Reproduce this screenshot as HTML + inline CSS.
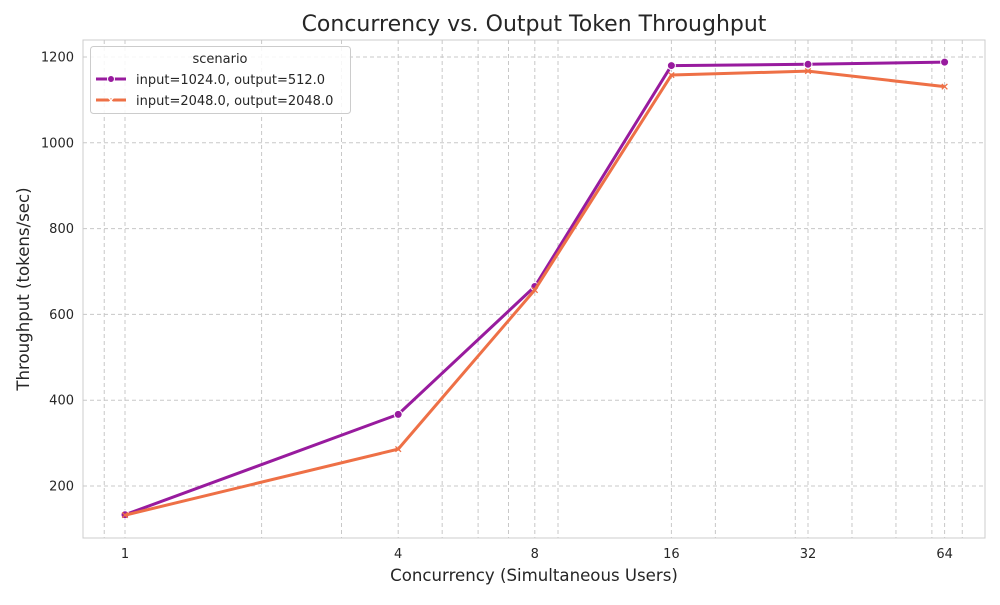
<!DOCTYPE html>
<html><head><meta charset="utf-8"><style>
body{margin:0;background:#fff;font-family:"Liberation Sans","DejaVu Sans",sans-serif;}
svg text{font-family:"DejaVu Sans","Liberation Sans",sans-serif;}
</style></head><body>
<svg id="chart" width="1000" height="600" xmlns="http://www.w3.org/2000/svg">
<rect x="83" y="40" width="902" height="498" fill="#fff" stroke="#cccccc"/>
<g id="grid"></g><g id="ticks"></g><g id="series"></g>
<text x="534" y="31" text-anchor="middle" font-size="22" fill="#262626">Concurrency vs. Output Token Throughput</text>
<text x="534" y="581" text-anchor="middle" font-size="16.6" fill="#262626">Concurrency (Simultaneous Users)</text>
<text transform="translate(29,289) rotate(-90)" text-anchor="middle" font-size="16.6" fill="#262626">Throughput (tokens/sec)</text>
<g>
<rect x="90.5" y="46.5" width="260" height="67" rx="3" fill="#fff" fill-opacity="0.85" stroke="#cccccc"/>
<text x="220" y="63" text-anchor="middle" font-size="13" fill="#262626">scenario</text>
<g>
<line x1="96" y1="79" x2="126" y2="79" stroke="#981b9e" stroke-width="3"/><circle cx="111" cy="79" r="3.5" fill="#981b9e" stroke="#fff"/>
<text x="136" y="84" font-size="13" fill="#262626">input=1024.0, output=512.0</text></g>
<g>
<line x1="96" y1="100" x2="126" y2="100" stroke="#ee7046" stroke-width="3"/><text x="111" y="103.5" text-anchor="middle" font-size="10" fill="#fff" font-weight="bold">×</text>
<text x="136" y="105" font-size="13" fill="#262626">input=2048.0, output=2048.0</text></g>
</g>
</svg>
<script>
const categories=[1,4,8,16,32,64];
const series1=[133,367,665,1180,1183,1188];
const series2=[132,286,657,1158,1167,1131];
const yTicks=[200,400,600,800,1000,1200];
const xTickLabels=["1","4","8","16","32","64"];
const NS="http://www.w3.org/2000/svg";
const X=v=>125+136.6*Math.log2(v);
const Y=v=>486-(v-200)*0.429;
function mk(t,a,p){const e=document.createElementNS(NS,t);for(const k in a)e.setAttribute(k,a[k]);p.appendChild(e);return e;}
const grid=document.getElementById('grid'),ticks=document.getElementById('ticks'),ser=document.getElementById('series');
const minors=[0.9,2,3,5,6,7,9,20,30,40,50,60,70];
minors.concat(categories).forEach(v=>{const l=mk('line',{x1:X(v),x2:X(v),y1:40,y2:538,stroke:'#c8c8c8','stroke-dasharray':'4,3','stroke-width':1},grid);

});
yTicks.forEach(v=>{const l=mk('line',{x1:83,x2:985,y1:Y(v),y2:Y(v),stroke:'#c8c8c8','stroke-dasharray':'4,3'},grid);


const t=mk('text',{x:74,y:Y(v)+4.5,'text-anchor':'end','font-size':13,fill:'#262626'},ticks);t.textContent=v;

});
categories.forEach((v,i)=>{const t=mk('text',{x:X(v),y:558,'text-anchor':'middle','font-size':13,fill:'#262626'},ticks);t.textContent=xTickLabels[i];

});
function draw(vals,color,marker,name){
const p=mk('polyline',{points:categories.map((c,i)=>X(c)+','+Y(vals[i])).join(' '),fill:'none',stroke:color,'stroke-width':3,'stroke-linejoin':'round'},ser);


categories.forEach((c,i)=>{let m;
if(marker==='o'){m=mk('circle',{cx:X(c),cy:Y(vals[i]),r:4,fill:color,stroke:'#fff','stroke-width':1},ser);}
else{m=mk('text',{x:X(c),y:Y(vals[i])+3.5,'text-anchor':'middle','font-size':11,'font-weight':'bold',fill:color},ser);m.textContent='×';}

});}
draw(series1,'#981b9e','o','series-1024-512');
draw(series2,'#ee7046','x','series-2048-2048');
</script>
</body></html>
